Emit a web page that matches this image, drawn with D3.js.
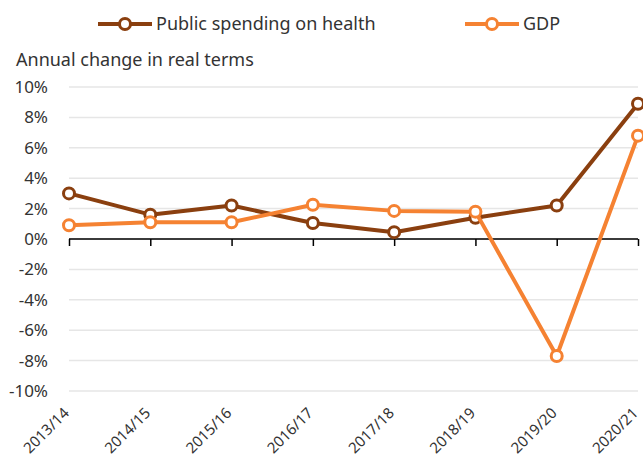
<!DOCTYPE html>
<html>
<head>
<meta charset="utf-8">
<script src="https://cdn.jsdelivr.net/npm/d3@7"></script>
<style>
  body { margin: 0; background: #fff; }
  text { font-family: "Noto Sans", sans-serif; fill: #333; }
</style>
</head>
<body>
<svg width="643" height="463"></svg>
<script>
const years = ['2013/14', '2014/15', '2015/16', '2016/17', '2017/18', '2018/19', '2019/20', '2020/21'];
const health = [3.0, 1.6, 2.2, 1.05, 0.45, 1.4, 2.2, 8.9];
const gdp = [0.9, 1.1, 1.1, 2.25, 1.85, 1.8, -7.7, 6.8];
const yTicks = [10, 8, 6, 4, 2, 0, -2, -4, -6, -8, -10];

const series = [
  {name: 'Public spending on health', values: health, color: '#8a3f0f', lx: 98},
  {name: 'GDP', values: gdp, color: '#f58232', lx: 465}
];

const $svg = d3.select('svg');

const x = d3.scalePoint().domain(years).range([69, 638]);
const y = d3.scaleLinear().domain([-10, 10]).range([391, 87]);

// gridlines
$svg.append('g')
  .selectAll('line')
  .data(yTicks)
  .enter()
  .append('line')
    .attr('x1', 69).attr('x2', 638)
    .attr('y1', d => y(d)).attr('y2', d => y(d))
    .attr('stroke', '#e6e6e6')
    .attr('stroke-width', 1.5);

// y labels
$svg.append('g')
  .selectAll('text')
  .data(yTicks)
  .enter()
  .append('text')
    .attr('x', 48)
    .attr('y', d => y(d))
    .attr('dy', '0.35em')
    .attr('text-anchor', 'end')
    .style('font-size', '17px')
    .text(d => d + '%');

// x axis at zero
const xAxis = d3.axisBottom(x).tickSize(7).tickFormat('');
const $ax = $svg.append('g')
  .attr('transform', 'translate(0,' + y(0) + ')')
  .call(xAxis);
$ax.select('.domain').attr('stroke', '#000').attr('stroke-width', 1.5).attr('d', 'M69,0H638');
$ax.selectAll('.tick line').attr('stroke', '#000').attr('stroke-width', 1.5);

// x labels at the bottom
$svg.append('g')
  .selectAll('text')
  .data(years)
  .enter()
  .append('text')
    .attr('transform', d => 'translate(' + (x(d) + 1) + ',414) rotate(-45)')
    .attr('text-anchor', 'end')
    .style('font-size', '15px')
    .text(d => d);

// lines
const line = d3.line()
  .x((d, i) => x(years[i]))
  .y(d => y(d));

series.forEach(function(s) {
  $svg.append('path')
    .datum(s.values)
    .attr('d', line)
    .attr('fill', 'none')
    .attr('stroke', s.color)
    .attr('stroke-width', 4)
    .attr('stroke-linejoin', 'round');
  $svg.append('g')
    .selectAll('circle')
    .data(s.values)
    .enter()
    .append('circle')
      .attr('cx', (d, i) => x(years[i]))
      .attr('cy', d => y(d))
      .attr('r', 5.5)
      .attr('fill', '#fff')
      .attr('stroke', s.color)
      .attr('stroke-width', 3);
});

// legend
const $leg = $svg.append('g');
series.forEach(function(s) {
  $leg.append('line')
    .attr('x1', s.lx).attr('x2', s.lx + 54)
    .attr('y1', 24).attr('y2', 24)
    .attr('stroke', s.color).attr('stroke-width', 4);
  $leg.append('circle')
    .attr('cx', s.lx + 27).attr('cy', 24).attr('r', 5.5)
    .attr('fill', '#fff').attr('stroke', s.color).attr('stroke-width', 3);
  $leg.append('text')
    .attr('x', s.lx + 58).attr('y', 24).attr('dy', '0.35em')
    .style('font-size', '18px')
    .text(s.name);
});

$svg.append('text')
  .attr('x', 16).attr('y', 60).attr('dy', '0.35em')
  .style('font-size', '18px')
  .text('Annual change in real terms');
</script>
</body>
</html>
